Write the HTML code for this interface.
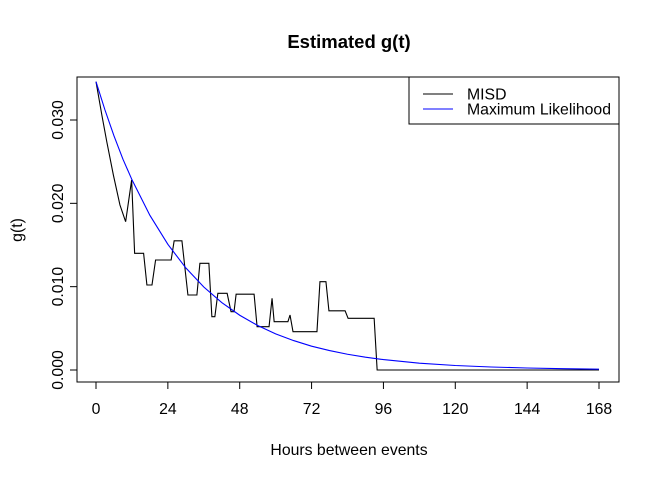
<!DOCTYPE html>
<html><head><meta charset="utf-8"><style>
body{margin:0;background:#fff;}
svg{display:block;font-family:"Liberation Sans",Arial,sans-serif;}
</style></head><body>
<svg id="chart" width="660" height="479" viewBox="0 0 660 479">
<text x="349" y="48" text-anchor="middle" font-size="18.5" font-weight="bold">Estimated g(t)</text>
<rect x="77" y="77" width="542" height="305" fill="none" stroke="#000"/>
<g id="xaxis"></g>
<g id="yaxis"></g>
<text x="349" y="455" text-anchor="middle" font-size="15.8">Hours between events</text>
<text transform="translate(22,230) rotate(-90)" text-anchor="middle" font-size="15.8">g(t)</text>
<g id="series"></g>
<g>
<rect x="409" y="77" width="210" height="47" fill="#fff" stroke="#000"/>
<line x1="423" y1="94" x2="453" y2="94" stroke="#000"/>
<text x="467" y="99.5" font-size="15.8">MISD</text>
<line x1="423" y1="109" x2="453" y2="109" stroke="#0000ff"/>
<text x="467" y="114.5" font-size="15.8">Maximum Likelihood</text>
</g>
</svg>
<script>
const misdHours=[0,2,3.6,5.8,8.0,9.9,11.9,12.9,15.9,17.0,18.7,19.9,25.1,26.1,28.7,30.7,33.7,34.7,37.7,38.7,39.7,40.7,43.8,45.1,46.1,46.8,52.8,53.8,57.8,58.8,59.5,64.1,64.8,65.8,73.8,74.8,76.8,77.8,83.2,84.2,92.9,93.9,168];
const misdValues=[0.0346,0.0305,0.0274,0.0234,0.0198,0.0178,0.0228,0.0140,0.0140,0.0102,0.0102,0.0132,0.0132,0.0155,0.0155,0.0090,0.0090,0.0128,0.0128,0.0064,0.0064,0.0092,0.0092,0.0070,0.0070,0.0091,0.0091,0.0052,0.0052,0.0086,0.0058,0.0058,0.0066,0.0046,0.0046,0.0106,0.0106,0.0071,0.0071,0.0062,0.0062,0,0];
const mlHours=[0,3,6,9,12,18,24,30,36,42,48,54,60,66,72,78,84,90,96,108,120,132,144,156,168];
const mlValues=[0.0346,0.0312,0.0281,0.0253,0.02284,0.01856,0.01508,0.01225,0.00996,0.00809,0.00657,0.00534,0.00434,0.00353,0.00286,0.00233,0.00189,0.00154,0.00125,0.00082,0.00054,0.00036,0.00024,0.00016,0.0001];
const xTicks=[0,24,48,72,96,120,144,168];
const yTicks=[0,0.01,0.02,0.03];
const yTickLabels=["0.000","0.010","0.020","0.030"];
const NS="http://www.w3.org/2000/svg";
function xs(h){return 96+h*(599-96)/168;}
function ys(v){return 370-v*(370-120)/0.03;}
const xa=document.getElementById('xaxis'),ya=document.getElementById('yaxis'),sg=document.getElementById('series');
function mk(tag,attrs,parent){const e=document.createElementNS(NS,tag);for(const k in attrs)e.setAttribute(k,attrs[k]);parent.appendChild(e);return e;}
mk('line',{x1:xs(0),x2:xs(168),y1:382,y2:382,stroke:'#000'},xa);
xTicks.forEach(t=>{
  const l=mk('line',{x1:xs(t),x2:xs(t),y1:382,y2:389,stroke:'#000'},xa);
  
  
  const tx=mk('text',{x:xs(t),y:414,'text-anchor':'middle','font-size':15.8},xa);
  tx.textContent=t;
  
  
});
mk('line',{x1:77,x2:77,y1:ys(0),y2:ys(0.03),stroke:'#000'},ya);
yTicks.forEach((t,i)=>{
  const l=mk('line',{x1:70,x2:77,y1:ys(t),y2:ys(t),stroke:'#000'},ya);
  
  
  const y=ys(t);
  const tx=mk('text',{x:0,y:0,transform:`translate(63,${y}) rotate(-90)`,'text-anchor':'middle','font-size':15.8},ya);
  tx.textContent=yTickLabels[i];
  
  
});
const p1=mk('polyline',{points:misdHours.map((h,i)=>xs(h)+','+ys(misdValues[i])).join(' '),fill:'none',stroke:'#000','stroke-width':1.1},sg);


const p2=mk('polyline',{points:mlHours.map((h,i)=>xs(h)+','+ys(mlValues[i])).join(' '),fill:'none',stroke:'#0000ff','stroke-width':1.1},sg);


</script>
</body></html>
